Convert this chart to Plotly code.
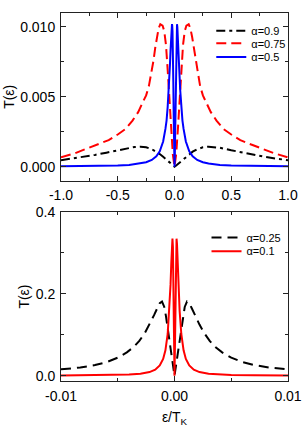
import plotly.graph_objects as go

# ---------------- data ----------------
# top panel, x = eps/T_K
eps_a09 = [-1.0, -0.9, -0.8, -0.7, -0.6, -0.5, -0.4, -0.35, -0.3, -0.25, -0.2, -0.16, -0.13, -0.1, -0.07, -0.04, -0.02,
           0.0, 0.02, 0.04, 0.07, 0.1, 0.13, 0.16, 0.2, 0.25, 0.3, 0.35, 0.4, 0.5, 0.6, 0.7, 0.8, 0.9, 1.0]
T_a09 = [0.00046, 0.00057, 0.0007, 0.00084, 0.001, 0.00117, 0.00135, 0.00141, 0.00143, 0.00138, 0.00125, 0.00107, 0.0009,
         0.0007, 0.00047, 0.00026, 0.00012,
         0.0, 0.00012, 0.00026, 0.00047, 0.0007, 0.0009, 0.00107, 0.00125, 0.00138, 0.00143, 0.00141, 0.00135, 0.00117,
         0.001, 0.00084, 0.0007, 0.00057, 0.00046]

eps_a075 = [-1.0, -0.88, -0.77, -0.67, -0.58, -0.5, -0.43, -0.37, -0.32, -0.28, -0.25, -0.225, -0.205, -0.185, -0.17,
            -0.155, -0.14, -0.125, -0.105, -0.09, -0.075, -0.06, -0.045, -0.03, -0.015,
            0.0, 0.015, 0.03, 0.045, 0.06, 0.075, 0.09, 0.105, 0.125, 0.14, 0.155, 0.17, 0.185, 0.205, 0.225, 0.25,
            0.28, 0.32, 0.37, 0.43, 0.5, 0.58, 0.67, 0.77, 0.88, 1.0]
T_a075 = [0.00066, 0.00095, 0.0013, 0.0016, 0.0019, 0.0023, 0.0027, 0.0033, 0.0039, 0.0046, 0.0051, 0.0058, 0.0066,
          0.0076, 0.0085, 0.0093, 0.0099, 0.0102, 0.0101, 0.0097, 0.0087, 0.0069, 0.0047, 0.0027, 0.0009,
          0.0, 0.0009, 0.0027, 0.0047, 0.0069, 0.0087, 0.0097, 0.0101, 0.0102, 0.0099, 0.0093, 0.0085, 0.0076, 0.0066,
          0.0058, 0.0051, 0.0046, 0.0039, 0.0033, 0.0027, 0.0023, 0.0019, 0.0016, 0.0013, 0.00095, 0.00066]

eps_a05 = [-1.0, -0.7, -0.5, -0.4, -0.3, -0.25, -0.2, -0.16, -0.13, -0.1, -0.08, -0.07, -0.06, -0.05, -0.045, -0.04,
           -0.035, -0.03, -0.025, -0.022, -0.02, -0.0175, -0.015, -0.0125, -0.01, -0.0075, -0.005, -0.0025,
           0.0, 0.0025, 0.005, 0.0075, 0.01, 0.0125, 0.015, 0.0175, 0.02, 0.022, 0.025, 0.03, 0.035, 0.04, 0.045,
           0.05, 0.06, 0.07, 0.08, 0.1, 0.13, 0.16, 0.2, 0.25, 0.3, 0.4, 0.5, 0.7, 1.0]
T_a05 = [0.00002, 0.00004, 0.00008, 0.00012, 0.00022, 0.00031, 0.00048, 0.00074, 0.0011, 0.0018, 0.0027, 0.0033,
         0.0043, 0.0055, 0.0064, 0.0073, 0.0083, 0.0093, 0.0100, 0.0102, 0.0101, 0.0097, 0.0088, 0.0075, 0.0058,
         0.0038, 0.0019, 0.0005,
         0.0, 0.0005, 0.0019, 0.0038, 0.0058, 0.0075, 0.0088, 0.0097, 0.0101, 0.0102, 0.0100, 0.0093, 0.0083,
         0.0073, 0.0064, 0.0055, 0.0043, 0.0033, 0.0027, 0.0018, 0.0011, 0.00074, 0.00048, 0.00031, 0.00022,
         0.00012, 0.00008, 0.00004, 0.00002]

# bottom panel
eps_a025 = [-0.01, -0.0083, -0.007, -0.006, -0.005, -0.0042, -0.0036, -0.0031, -0.0026, -0.0022, -0.0018, -0.0015,
            -0.0013, -0.0011, -0.0009, -0.00075, -0.0006, -0.00045, -0.0003, -0.00015,
            0.0, 0.00015, 0.0003, 0.00045, 0.0006, 0.00075, 0.0009, 0.0011, 0.0013, 0.0015, 0.0018, 0.0022, 0.0026,
            0.0031, 0.0036, 0.0042, 0.005, 0.006, 0.007, 0.0083, 0.01]
T_a025 = [0.0155, 0.02, 0.026, 0.033, 0.044, 0.057, 0.07, 0.085, 0.105, 0.125, 0.148, 0.166, 0.177, 0.181, 0.168,
          0.145, 0.117, 0.087, 0.057, 0.028,
          0.0, 0.028, 0.057, 0.087, 0.117, 0.145, 0.168, 0.181, 0.177, 0.166, 0.148, 0.125, 0.105, 0.085, 0.07,
          0.057, 0.044, 0.033, 0.026, 0.02, 0.0155]

eps_a01 = [-0.01, -0.007, -0.005, -0.004, -0.003, -0.0022, -0.0017, -0.0013, -0.001, -0.0008, -0.0006, -0.00045,
           -0.00035, -0.00028, -0.00022, -0.00018, -0.00014, -0.0001, -0.00005,
           0.0, 0.00005, 0.0001, 0.00014, 0.00018, 0.00022, 0.00028, 0.00035, 0.00045, 0.0006, 0.0008, 0.001,
           0.0013, 0.0017, 0.0022, 0.003, 0.004, 0.005, 0.007, 0.01]
T_a01 = [0.0004, 0.0009, 0.0017, 0.0027, 0.0048, 0.0089, 0.0147, 0.025, 0.041, 0.062, 0.102, 0.159, 0.222, 0.277,
         0.322, 0.335, 0.315, 0.242, 0.089,
         0.0, 0.089, 0.242, 0.315, 0.335, 0.322, 0.277, 0.222, 0.159, 0.102, 0.062, 0.041, 0.025, 0.0147, 0.0089,
         0.0048, 0.0027, 0.0017, 0.0009, 0.0004]

# tick labels
top_x_ticks = [-1.0, -0.5, 0.0, 0.5, 1.0]
top_x_labels = ["-1.0", "-0.5", "0.0", "0.5", "1.0"]
top_x_minor = [-0.75, -0.25, 0.25, 0.75]
top_y_ticks = [0.0, 0.005, 0.010]
top_y_labels = ["0.000", "0.005", "0.010"]
top_y_minor = [0.0025, 0.0075]
bot_x_ticks = [-0.01, 0.0, 0.01]
bot_x_labels = ["-0.01", "0.00", "0.01"]
bot_x_minor = [-0.005, 0.005]
bot_y_ticks = [0.0, 0.2, 0.4]
bot_y_labels = ["0.0", "0.2", "0.4"]
bot_y_minor = [0.1, 0.3]

# ---------------- figure ----------------
FONT = "Liberation Sans, Arial, sans-serif"
fig = go.Figure()

fig.add_trace(go.Scatter(x=eps_a09, y=T_a09, mode="lines", name="α=0.9", legend="legend",
                         line=dict(color="black", width=2, dash="9px,4px,3px,4px"), xaxis="x", yaxis="y"))
fig.add_trace(go.Scatter(x=eps_a075, y=T_a075, mode="lines", name="α=0.75", legend="legend2",
                         line=dict(color="#ff0000", width=2, dash="10px,5px"), xaxis="x", yaxis="y"))
fig.add_trace(go.Scatter(x=eps_a05, y=T_a05, mode="lines", name="α=0.5", legend="legend3",
                         line=dict(color="#0000ff", width=2), xaxis="x", yaxis="y"))
fig.add_trace(go.Scatter(x=eps_a025, y=T_a025, mode="lines", name="α=0.25", legend="legend4",
                         line=dict(color="black", width=2, dash="10px,6px"), xaxis="x2", yaxis="y2"))
fig.add_trace(go.Scatter(x=eps_a01, y=T_a01, mode="lines", name="α=0.1", legend="legend5",
                         line=dict(color="#ff0000", width=2), xaxis="x2", yaxis="y2"))

axis_common = dict(showline=True, linecolor="#222", linewidth=1, mirror="ticks", ticks="inside",
                   ticklen=5, tickwidth=1, tickcolor="#222", showgrid=False, zeroline=False,
                   ticklabelstandoff=2,
                   tickfont=dict(family=FONT, size=14, color="black"))
minor_common = dict(ticks="inside", ticklen=3, tickwidth=1, tickcolor="#222", showgrid=False)

leg_common = dict(bgcolor="rgba(0,0,0,0)", font=dict(family=FONT, size=11, color="black"),
                  xanchor="left", yanchor="middle", itemwidth=30, borderwidth=0)

fig.update_layout(
    width=307, height=428,
    margin=dict(l=61, r=12, t=5, b=46),
    paper_bgcolor="white", plot_bgcolor="white",
    showlegend=True,
    xaxis=dict(axis_common, domain=[0, 1], anchor="y", range=[-1, 1],
               tickmode="array", tickvals=top_x_ticks, ticktext=top_x_labels,
               minor=dict(minor_common, tickvals=top_x_minor)),
    yaxis=dict(axis_common, domain=[0.5446, 1], anchor="x", range=[-0.001, 0.011],
               tickmode="array", tickvals=top_y_ticks, ticktext=top_y_labels,
               minor=dict(minor_common, tickvals=top_y_minor),
               title=dict(text="T(ε)", font=dict(family=FONT, size=14, color="black"), standoff=2)),
    xaxis2=dict(axis_common, domain=[0, 1], anchor="y2", range=[-0.01, 0.01],
                tickmode="array", tickvals=bot_x_ticks, ticktext=bot_x_labels,
                minor=dict(minor_common, tickvals=bot_x_minor),
                title=dict(text="ε/T<sub>K</sub>", font=dict(family=FONT, size=14, color="black"), standoff=9)),
    yaxis2=dict(axis_common, domain=[0, 0.459], anchor="x2", range=[-0.013, 0.4],
                tickmode="array", tickvals=bot_y_ticks, ticktext=bot_y_labels,
                minor=dict(minor_common, tickvals=bot_y_minor),
                title=dict(text="T(ε)", font=dict(family=FONT, size=14, color="black"), standoff=2)),
    legend=dict(leg_common, x=0.662, y=0.9515),
    legend2=dict(leg_common, x=0.662, y=0.9178),
    legend3=dict(leg_common, x=0.662, y=0.8806),
    legend4=dict(leg_common, x=0.641, y=0.3899),
    legend5=dict(leg_common, x=0.641, y=0.3528),
)

fig.write_html("out.html", config={"displayModeBar": False},
               post_script="document.body.style.margin='0';document.body.style.overflow='hidden';")
